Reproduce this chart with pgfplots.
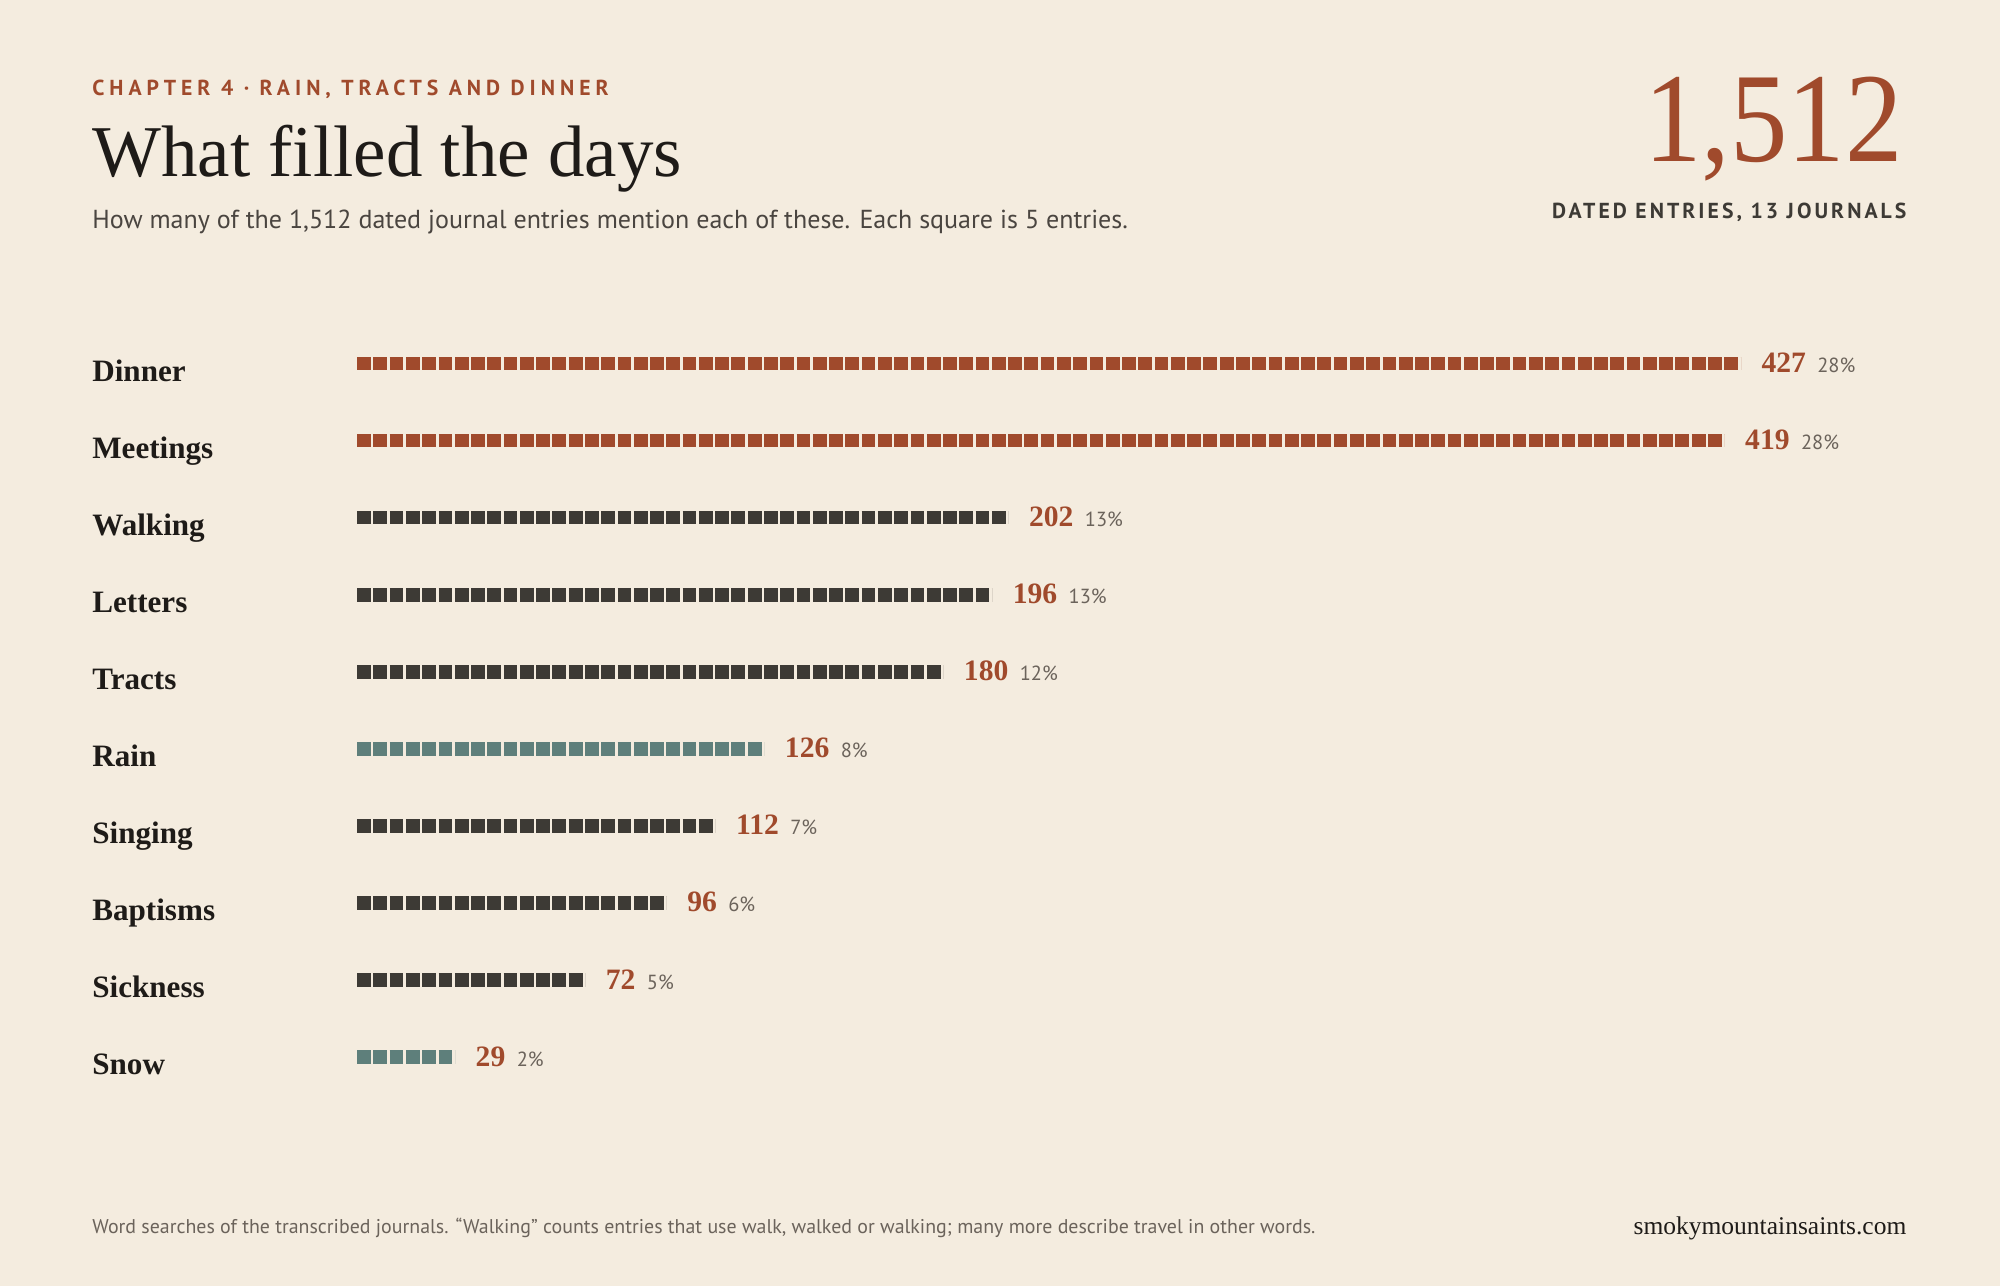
\documentclass[border=0pt]{standalone}
\usepackage{fontspec}
\usepackage{pgfplots}
\pgfplotsset{compat=1.18}
\setmainfont{Liberation Serif}
\setsansfont{PT Sans}

\definecolor{bg}{HTML}{F4ECDF}
\definecolor{rust}{HTML}{A04A2C}
\definecolor{ink}{HTML}{1E1B18}
\definecolor{dark}{HTML}{3D3A35}
\definecolor{teal}{HTML}{5E7F7B}
\definecolor{subgrey}{HTML}{4A4540}
\definecolor{pctgrey}{HTML}{6B635B}

% one square = 5 entries; pitch of the squares along x
\def\pitch{6.38}

% #1 row, #2 entries, #3 share, #4 colour
\newcommand\squarerow[4]{%
  \addplot[draw=#4, line width=5.4pt, dash pattern=on 5.4pt off 0.98pt]
    table[row sep=\\, x expr={round(\thisrow{v}/5)}, y=r] {v r\\ 0 #1\\ #2 #1\\}
    node[pos=1, anchor=base west, inner sep=0, xshift=5.5pt, yshift=-3.6pt]
    {{\fontsize{11.6}{12}\selectfont\bfseries\color{rust}#2}\hspace{4.5pt}%
     {\sffamily\fontsize{8}{9}\selectfont\color{pctgrey}#3\%}};
}

\begin{document}
\begin{tikzpicture}[x=1pt,y=1pt]
\fill[bg] (0,0) rectangle (784,504);
\path[use as bounding box] (0,0) rectangle (784,504);

% header
\node[anchor=base west, inner sep=0] at (36,466.5)
  {\sffamily\bfseries\fontsize{8.5}{10}\selectfont\addfontfeatures{LetterSpace=23}\color{rust}CHAPTER 4 · RAIN, TRACTS AND DINNER};
\node[anchor=base west, inner sep=0] at (36,435)
  {\fontsize{28.6}{32}\selectfont\color{ink}What filled the days};
\node[anchor=base west, inner sep=0] at (36,414.5)
  {\sffamily\fontsize{10.2}{12}\selectfont\color{subgrey}How many of the 1,512 dated journal entries mention each of these. Each square is 5 entries.};

\node[anchor=base east, inner sep=0] at (746,440.5)
  {\fontsize{50}{50}\selectfont\addfontfeatures{FakeStretch=0.9}\color{rust}1,512};
\node[anchor=base east, inner sep=0] at (747.5,418.5)
  {\sffamily\bfseries\fontsize{8.5}{10}\selectfont\addfontfeatures{LetterSpace=14}\color{dark}DATED ENTRIES, 13 JOURNALS};

% footer
\node[anchor=base west, inner sep=0] at (36,20.5)
  {\sffamily\fontsize{7.8}{9}\selectfont\color{pctgrey}Word searches of the transcribed journals. “Walking” counts entries that use walk, walked or walking; many more describe travel in other words.};
\node[anchor=base east, inner sep=0] at (747.5,20)
  {\fontsize{10}{12}\selectfont\color{ink}smokymountainsaints.com};

\begin{axis}[
  at={(140pt,74.6pt)}, anchor=south west,
  scale only axis, width=95*\pitch pt, height=302pt,
  xmin=0, xmax=95, ymin=-0.5, ymax=9.5,
  axis line style={draw=none}, major tick length=0pt,
  xtick=\empty, ytick={0,...,9},
  yticklabels={Snow,Sickness,Baptisms,Singing,Rain,Tracts,Letters,Walking,Meetings,Dinner},
  yticklabel style={anchor=base west, inner sep=0pt, xshift=-104pt, yshift=-7pt,
    font=\fontsize{12.2}{14}\selectfont\bfseries, text=ink},
  clip=false,
]
\squarerow{9}{427}{28}{rust}
\squarerow{8}{419}{28}{rust}
\squarerow{7}{202}{13}{dark}
\squarerow{6}{196}{13}{dark}
\squarerow{5}{180}{12}{dark}
\squarerow{4}{126}{8}{teal}
\squarerow{3}{112}{7}{dark}
\squarerow{2}{96}{6}{dark}
\squarerow{1}{72}{5}{dark}
\squarerow{0}{29}{2}{teal}
\end{axis}
\end{tikzpicture}
\end{document}
